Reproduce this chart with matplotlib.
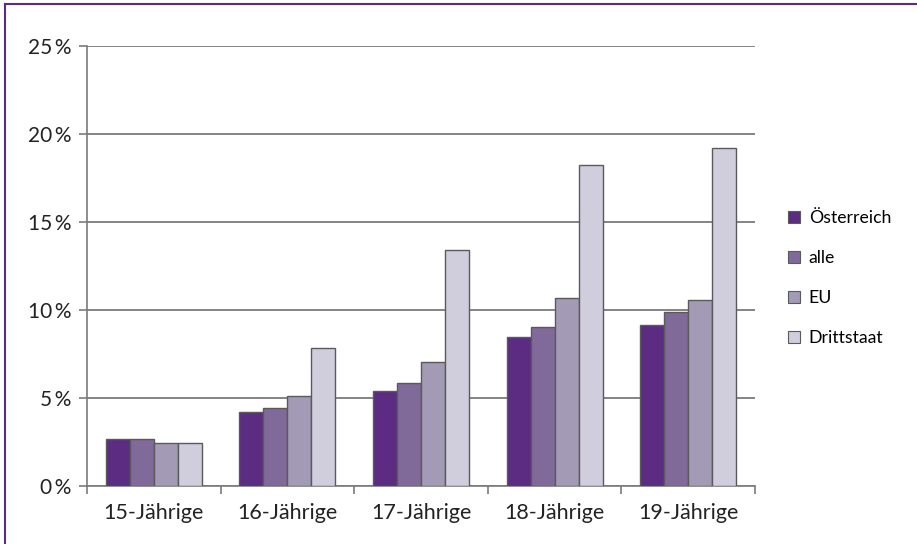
import matplotlib
matplotlib.use("Agg")
import matplotlib.pyplot as plt
import numpy as np
from matplotlib.lines import Line2D

categories = ["15-Jährige", "16-Jährige", "17-Jährige", "18-Jährige", "19-Jährige"]
series_names = ["Österreich", "alle", "EU", "Drittstaat"]
oesterreich = [2.67, 4.2, 5.4, 8.48, 9.15]
alle = [2.67, 4.43, 5.85, 9.03, 9.9]
eu = [2.46, 5.1, 7.05, 10.66, 10.55]
drittstaat = [2.46, 7.84, 13.4, 18.24, 19.2]
y_ticks = [0, 5, 10, 15, 20, 25]
y_labels = ["0\u2009%", "5\u2009%", "10\u2009%", "15\u2009%", "20\u2009%", "25\u2009%"]

colors = ["#5c2b82", "#806a9a", "#a39ab6", "#d0cddc"]
values = [oesterreich, alle, eu, drittstaat]

plt.rcParams['font.family'] = ['Lato', 'DejaVu Sans']

fig = plt.figure(figsize=(9.17, 5.44), dpi=100)
ax = fig.add_axes([87/917, 58/544, (755-87)/917, (486-46)/544])

n = len(categories)
x = np.arange(n)
bw = 0.18
for i, (vals, c, name) in enumerate(zip(values, colors, series_names)):
    ax.bar(x + (i - 1.5) * bw, vals, width=bw, color=c, edgecolor="#5a5a5a",
           linewidth=1.0, label=name, zorder=3)

ax.set_xlim(-0.5, n - 0.5)
ax.set_ylim(0, 25)
ax.set_yticks(y_ticks)
ax.set_yticklabels(y_labels, fontsize=15, color="#222222")
ax.yaxis.grid(True, color="#7a7a7a", linewidth=1.3, zorder=0)
ax.set_axisbelow(True)

ax.set_xticks(np.arange(n + 1) - 0.5)
ax.set_xticklabels([])
ax.set_xticks(x, minor=True)
ax.set_xticklabels(categories, minor=True, fontsize=15.5, color="#222222")
ax.tick_params(axis='x', which='major', length=6, color="#7a7a7a", width=1.2, direction='out')
ax.tick_params(axis='x', which='minor', length=0, pad=12)
ax.tick_params(axis='y', length=6, color="#7a7a7a", width=1.2, pad=5)

for s in ["top", "right"]:
    ax.spines[s].set_visible(False)
ax.spines["left"].set_color("#7a7a7a")
ax.spines["bottom"].set_color("#7a7a7a")
ax.spines["left"].set_linewidth(1.2)
ax.spines["bottom"].set_linewidth(1.2)

leg = ax.legend(loc="center left", bbox_to_anchor=(1.025, 0.473), frameon=False,
                fontsize=12.7, handlelength=0.7, handleheight=0.7, labelspacing=1.36,
                handletextpad=0.5)
for h in leg.legend_handles:
    h.set_linewidth(0.8)

fig.add_artist(Line2D([4.5/917, 4.5/917], [0, 1 - 3.5/544], color="#5c2b82", linewidth=1.5))
fig.add_artist(Line2D([4.5/917, 1], [1 - 3.5/544, 1 - 3.5/544], color="#5c2b82", linewidth=1.5))

fig.savefig("out.png", dpi=100)
